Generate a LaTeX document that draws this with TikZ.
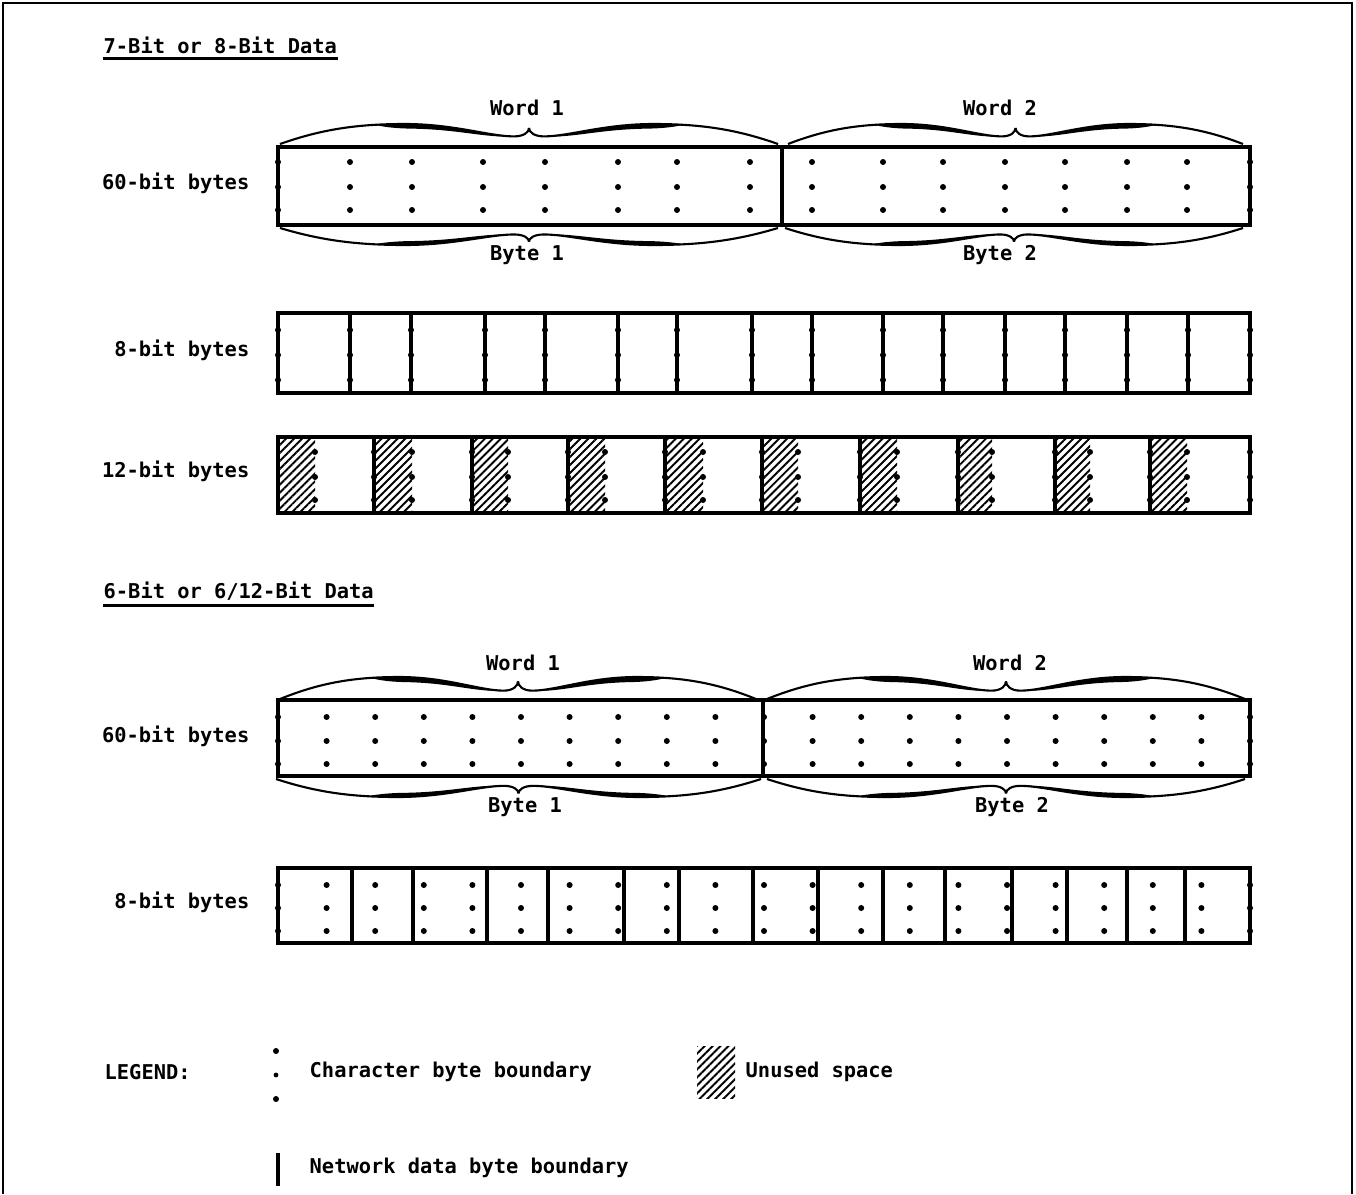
\documentclass[tikz,border=0pt]{standalone}
\usepackage{fontspec}
\setmonofont{DejaVu Sans Mono}
\usetikzlibrary{patterns.meta}

\begin{document}
\begin{tikzpicture}[
    x=0.1mm, y=-0.1mm,
    every node/.style={font=\ttfamily\bfseries\fontsize{5.8}{7}\selectfont, inner sep=0pt},
    field/.style={draw, line width=0.9pt},
    netline/.style={line width=1pt},
    unused/.style={pattern={Lines[angle=45, distance=1.6pt, line width=0.55pt]}},
    rowlabel/.style={anchor=east},
    title/.style={anchor=west},
    % wide hand-drawn brace, unit length, peak height 1
    wbrace/.pic={
      \foreach \s in {0,1} {
        \begin{scope}[shift={(\s,0)}, xscale={1-2*\s}]
          \draw[line width=0.6pt] (0,0) .. controls (0.08,0.7) and (0.15,1) .. (0.25,1)
            .. controls (0.35,1) and (0.42,0.38) .. (0.47,0.38)
            .. controls (0.49,0.38) and (0.5,0.6) .. (0.5,0.8);
          \fill (0.19,0.97) .. controls (0.22,1) and (0.23,1) .. (0.25,1)
            .. controls (0.35,1) and (0.42,0.38) .. (0.47,0.38)
            .. controls (0.41,0.3) and (0.36,0.74) .. (0.26,0.77)
            .. controls (0.23,0.78) and (0.2,0.88) .. (0.19,0.97) -- cycle;
        \end{scope}
      }
    }
]
\useasboundingbox (0,0) rectangle (1356,1194);

% page frame (open at the bottom)
\draw[line width=0.8pt] (3,1194) -- (3,3) -- (1352,3) -- (1352,1194);

% ---------------- 7-Bit or 8-Bit Data ----------------
\node[title] (title1) at (103,45) {7-Bit or 8-Bit Data};
\draw[line width=0.9pt] ([yshift=-1.3pt]title1.south west) -- ([yshift=-1.3pt]title1.south east);

% 60-bit bytes
\node[rowlabel] (sixtyA) at (250,183) {60-bit bytes};
\draw[field] (278,147) rectangle (1250,225);
\draw[netline] (782,147) -- (782,225);
\foreach \x in {278,350,412,483,545,618,677,750,812,883,943,1005,1065,1127,1187,1250}
  \foreach \y in {162,187,210}
    \fill (\x,\y) circle[radius=0.3mm];
\pic[xscale=498, yscale=-20] at (280,144) {wbrace};
\pic[xscale=455, yscale=-20] at (788,144) {wbrace};
\pic[xscale=498, yscale=17] at (280,228) {wbrace};
\pic[xscale=458, yscale=17] at (785,228) {wbrace};
\node (wordA1) at (527,108) {Word 1};
\node (wordA2) at (1000,108) {Word 2};
\node (byteA1) at (527,255) {Byte 1};
\node (byteA2) at (1000,255) {Byte 2};

% 8-bit bytes
\node[rowlabel] (eightA) at (250,350) {8-bit bytes};
\draw[field] (278,313) rectangle (1250,393);
\foreach \x in {350,411,485,545,618,677,752,812,883,943,1005,1065,1127,1188}
  \draw[netline] (\x,313) -- (\x,393);
\foreach \x in {278,350,411,485,545,618,677,752,812,883,943,1005,1065,1127,1188,1250}
  \foreach \y in {330,355,380}
    \fill (\x,\y) circle[radius=0.3mm];

% 12-bit bytes
\node[rowlabel] (twelveA) at (250,471) {12-bit bytes};
\foreach \a/\b in {278/315,374/412,472/508,568/605,665/703,762/798,860/897,958/992,1055/1090,1150/1187}
  \path[unused] (\a,438) rectangle (\b,512);
\draw[field] (278,437) rectangle (1250,513);
\foreach \x in {374,472,568,665,762,860,958,1055,1150}
  \draw[netline] (\x,437) -- (\x,513);
\foreach \x in {315,374,412,472,508,568,605,665,703,762,798,860,897,958,992,1055,1090,1150,1187,1250}
  \foreach \y in {452,477,500}
    \fill (\x,\y) circle[radius=0.3mm];

% ---------------- 6-Bit or 6/12-Bit Data ----------------
\node[title] (title2) at (103,591) {6-Bit or 6/12-Bit Data};
\draw[line width=0.9pt] ([yshift=-1.3pt]title2.south west) -- ([yshift=-1.3pt]title2.south east);

% 60-bit bytes
\node[rowlabel] (sixtyB) at (250,736) {60-bit bytes};
\draw[field] (278,700) rectangle (1250,776);
\draw[netline] (763,700) -- (763,776);
\foreach \i in {0,...,20}
  \foreach \y in {717,741,764}
    \fill ({278+48.6*\i},\y) circle[radius=0.3mm];
\pic[xscale=476, yscale=-22] at (280,699) {wbrace};
\pic[xscale=478, yscale=-22] at (767,699) {wbrace};
\pic[xscale=485, yscale=18] at (276,779) {wbrace};
\pic[xscale=478, yscale=18] at (767,779) {wbrace};
\node (wordB1) at (523,663) {Word 1};
\node (wordB2) at (1010,663) {Word 2};
\node (byteB1) at (525,807) {Byte 1};
\node (byteB2) at (1012,807) {Byte 2};

% 8-bit bytes
\node[rowlabel] (eightB) at (250,902) {8-bit bytes};
\draw[field] (278,868) rectangle (1250,943);
\foreach \x in {352,413,487,548,624,679,753,818,883,945,1012,1067,1127,1185}
  \draw[netline] (\x,868) -- (\x,943);
\foreach \i in {0,...,20}
  \foreach \y in {885,908,931}
    \fill ({278+48.6*\i},\y) circle[radius=0.3mm];

% ---------------- legend ----------------
\node[anchor=west] (legend) at (104,1072) {LEGEND:};
\fill (276,1051) circle[radius=0.3mm];
\fill (276,1075) circle[radius=0.24mm];
\fill (276,1099) circle[radius=0.3mm];
\node[anchor=west] (charkey) at (309,1072) {Character byte boundary};
\path[unused] (697,1046) rectangle (735,1098);
\node[anchor=west] (unusedkey) at (745,1072) {Unused space};
\draw[netline] (278,1153) -- (278,1186);
\node[anchor=west] (netkey) at (309,1168) {Network data byte boundary};

\end{tikzpicture}
\end{document}
